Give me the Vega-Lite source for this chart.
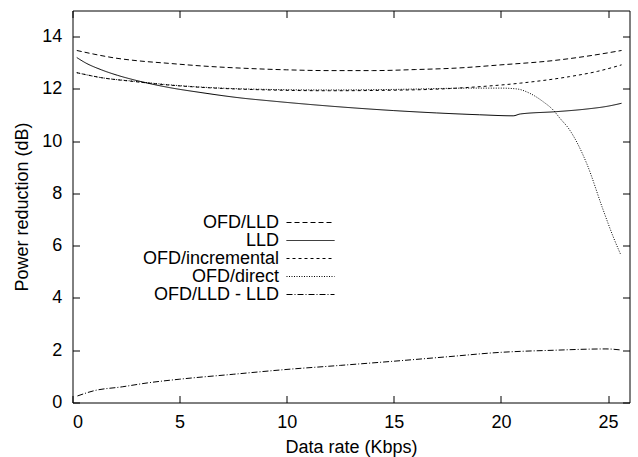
{
  "$schema": "https://vega.github.io/schema/vega-lite/v6.json",
  "width": 557,
  "height": 392,
  "autosize": {"type": "none"},
  "padding": {"left": 72.5, "top": 10.5, "right": 8.5, "bottom": 54.5},
  "background": "white",
  "config": {
    "view": {"stroke": null},
    "font": "Liberation Sans",
    "axis": {
      "grid": false,
      "domain": true,
      "domainColor": "black",
      "domainWidth": 1,
      "tickColor": "black",
      "tickWidth": 1,
      "tickSize": -7,
      "labelColor": "black",
      "labelFont": "Liberation Sans",
      "labelFontSize": 18,
      "titleColor": "black",
      "titleFont": "Liberation Sans",
      "titleFontSize": 18,
      "titleFontWeight": "normal"
    }
  },
  "data": {
    "values": [
      {"series": "OFD/LLD", "rate": 0.2, "reduction": 13.47},
      {"series": "OFD/LLD", "rate": 1, "reduction": 13.33},
      {"series": "OFD/LLD", "rate": 2, "reduction": 13.18},
      {"series": "OFD/LLD", "rate": 3, "reduction": 13.08},
      {"series": "OFD/LLD", "rate": 4.46, "reduction": 12.98},
      {"series": "OFD/LLD", "rate": 6, "reduction": 12.88},
      {"series": "OFD/LLD", "rate": 8, "reduction": 12.79},
      {"series": "OFD/LLD", "rate": 10, "reduction": 12.73},
      {"series": "OFD/LLD", "rate": 12, "reduction": 12.7},
      {"series": "OFD/LLD", "rate": 14, "reduction": 12.7},
      {"series": "OFD/LLD", "rate": 16, "reduction": 12.74},
      {"series": "OFD/LLD", "rate": 18, "reduction": 12.8},
      {"series": "OFD/LLD", "rate": 20, "reduction": 12.92},
      {"series": "OFD/LLD", "rate": 22.4, "reduction": 13.08},
      {"series": "OFD/LLD", "rate": 24, "reduction": 13.25},
      {"series": "OFD/LLD", "rate": 25.63, "reduction": 13.47},

      {"series": "LLD", "rate": 0.2, "reduction": 13.2},
      {"series": "LLD", "rate": 0.6, "reduction": 13.0},
      {"series": "LLD", "rate": 1.35, "reduction": 12.73},
      {"series": "LLD", "rate": 2.1, "reduction": 12.52},
      {"series": "LLD", "rate": 2.9, "reduction": 12.34},
      {"series": "LLD", "rate": 4.46, "reduction": 12.06},
      {"series": "LLD", "rate": 6, "reduction": 11.86},
      {"series": "LLD", "rate": 8, "reduction": 11.64},
      {"series": "LLD", "rate": 9.12, "reduction": 11.55},
      {"series": "LLD", "rate": 11, "reduction": 11.41},
      {"series": "LLD", "rate": 13, "reduction": 11.28},
      {"series": "LLD", "rate": 15, "reduction": 11.17},
      {"series": "LLD", "rate": 17, "reduction": 11.08},
      {"series": "LLD", "rate": 19, "reduction": 11.01},
      {"series": "LLD", "rate": 20.57, "reduction": 10.97},
      {"series": "LLD", "rate": 20.9, "reduction": 11.04},
      {"series": "LLD", "rate": 22.6, "reduction": 11.13},
      {"series": "LLD", "rate": 24, "reduction": 11.23},
      {"series": "LLD", "rate": 25, "reduction": 11.34},
      {"series": "LLD", "rate": 25.63, "reduction": 11.45},

      {"series": "OFD/incremental", "rate": 0.2, "reduction": 12.62},
      {"series": "OFD/incremental", "rate": 1.35, "reduction": 12.43},
      {"series": "OFD/incremental", "rate": 2.9, "reduction": 12.28},
      {"series": "OFD/incremental", "rate": 4.46, "reduction": 12.15},
      {"series": "OFD/incremental", "rate": 6, "reduction": 12.06},
      {"series": "OFD/incremental", "rate": 9.12, "reduction": 11.96},
      {"series": "OFD/incremental", "rate": 12, "reduction": 11.93},
      {"series": "OFD/incremental", "rate": 15, "reduction": 11.95},
      {"series": "OFD/incremental", "rate": 17, "reduction": 11.99},
      {"series": "OFD/incremental", "rate": 18.55, "reduction": 12.06},
      {"series": "OFD/incremental", "rate": 20.9, "reduction": 12.22},
      {"series": "OFD/incremental", "rate": 23.2, "reduction": 12.47},
      {"series": "OFD/incremental", "rate": 24.5, "reduction": 12.67},
      {"series": "OFD/incremental", "rate": 25.63, "reduction": 12.92},

      {"series": "OFD/direct", "rate": 0.2, "reduction": 12.62},
      {"series": "OFD/direct", "rate": 1.35, "reduction": 12.43},
      {"series": "OFD/direct", "rate": 2.9, "reduction": 12.29},
      {"series": "OFD/direct", "rate": 4.46, "reduction": 12.16},
      {"series": "OFD/direct", "rate": 6, "reduction": 12.07},
      {"series": "OFD/direct", "rate": 9.12, "reduction": 11.98},
      {"series": "OFD/direct", "rate": 12, "reduction": 11.96},
      {"series": "OFD/direct", "rate": 15, "reduction": 11.98},
      {"series": "OFD/direct", "rate": 18.55, "reduction": 12.03},
      {"series": "OFD/direct", "rate": 20.0, "reduction": 12.03},
      {"series": "OFD/direct", "rate": 20.73, "reduction": 12.0},
      {"series": "OFD/direct", "rate": 21.35, "reduction": 11.83},
      {"series": "OFD/direct", "rate": 21.97, "reduction": 11.51},
      {"series": "OFD/direct", "rate": 22.44, "reduction": 11.19},
      {"series": "OFD/direct", "rate": 22.75, "reduction": 10.88},
      {"series": "OFD/direct", "rate": 23.18, "reduction": 10.46},
      {"series": "OFD/direct", "rate": 24.0, "reduction": 9.15},
      {"series": "OFD/direct", "rate": 24.77, "reduction": 7.37},
      {"series": "OFD/direct", "rate": 25.24, "reduction": 6.34},
      {"series": "OFD/direct", "rate": 25.6, "reduction": 5.64},

      {"series": "OFD/LLD - LLD", "rate": 0.23, "reduction": 0.25},
      {"series": "OFD/LLD - LLD", "rate": 1, "reduction": 0.45},
      {"series": "OFD/LLD - LLD", "rate": 2.32, "reduction": 0.6},
      {"series": "OFD/LLD - LLD", "rate": 3.5, "reduction": 0.75},
      {"series": "OFD/LLD - LLD", "rate": 4.98, "reduction": 0.89},
      {"series": "OFD/LLD - LLD", "rate": 7.5, "reduction": 1.08},
      {"series": "OFD/LLD - LLD", "rate": 9.92, "reduction": 1.26},
      {"series": "OFD/LLD - LLD", "rate": 12.5, "reduction": 1.42},
      {"series": "OFD/LLD - LLD", "rate": 15, "reduction": 1.58},
      {"series": "OFD/LLD - LLD", "rate": 17.5, "reduction": 1.75},
      {"series": "OFD/LLD - LLD", "rate": 20, "reduction": 1.92},
      {"series": "OFD/LLD - LLD", "rate": 21, "reduction": 1.96},
      {"series": "OFD/LLD - LLD", "rate": 22.5, "reduction": 2.0},
      {"series": "OFD/LLD - LLD", "rate": 24, "reduction": 2.04},
      {"series": "OFD/LLD - LLD", "rate": 24.9, "reduction": 2.05},
      {"series": "OFD/LLD - LLD", "rate": 25.6, "reduction": 2.01}
    ]
  },
  "layer": [
    {
      "mark": {"type": "line", "interpolate": "monotone", "strokeWidth": 1, "color": "black"},
      "encoding": {
        "x": {
          "field": "rate", "type": "quantitative",
          "scale": {"domain": [0, 26], "nice": false, "zero": false},
          "axis": {
            "orient": "bottom",
            "title": "Data rate (Kbps)",
            "values": [0, 5, 10, 15, 20, 25],
            "labelPadding": 32,
            "labelBaseline": "alphabetic",
            "titleY": 50.2,
            "titleBaseline": "alphabetic"
          }
        },
        "y": {
          "field": "reduction", "type": "quantitative",
          "scale": {"domain": [0, 15], "nice": false},
          "axis": {
            "orient": "left",
            "title": "Power reduction (dB)",
            "values": [0, 2, 4, 6, 8, 10, 12, 14],
            "labelPadding": 17.8,
            "titleX": -45,
            "titleBaseline": "alphabetic"
          }
        },
        "strokeDash": {
          "field": "series", "type": "nominal",
          "scale": {
            "domain": ["OFD/LLD", "LLD", "OFD/incremental", "OFD/direct", "OFD/LLD - LLD"],
            "range": [[5, 3], [1, 0], [3, 3], [1, 1.5], [6, 2, 1, 2]]
          },
          "legend": {
            "orient": "none",
            "legendX": 214,
            "legendY": 203,
            "title": null,
            "padding": 0,
            "symbolType": "M-6,0H6",
            "symbolSize": 64,
            "symbolOffset": 15,
            "symbolStrokeWidth": 1,
            "symbolStrokeColor": "black",
            "symbolFillColor": "transparent",
            "symbolOpacity": 1,
            "labelFont": "Liberation Sans",
            "labelFontSize": 18,
            "labelColor": "black",
            "labelAlign": "right",
            "labelOffset": -40.5,
            "rowPadding": -3.1
          }
        }
      }
    },
    {
      "mark": {"type": "line", "strokeOpacity": 0},
      "encoding": {
        "x": {
          "field": "rate", "type": "quantitative",
          "axis": {"orient": "top", "title": null, "labels": false, "values": [0, 5, 10, 15, 20, 25]}
        },
        "y": {
          "field": "reduction", "type": "quantitative",
          "axis": {"orient": "right", "title": null, "labels": false, "values": [0, 2, 4, 6, 8, 10, 12, 14]}
        },
        "detail": {"field": "series", "type": "nominal"}
      }
    }
  ],
  "resolve": {"axis": {"x": "independent", "y": "independent"}}
}
